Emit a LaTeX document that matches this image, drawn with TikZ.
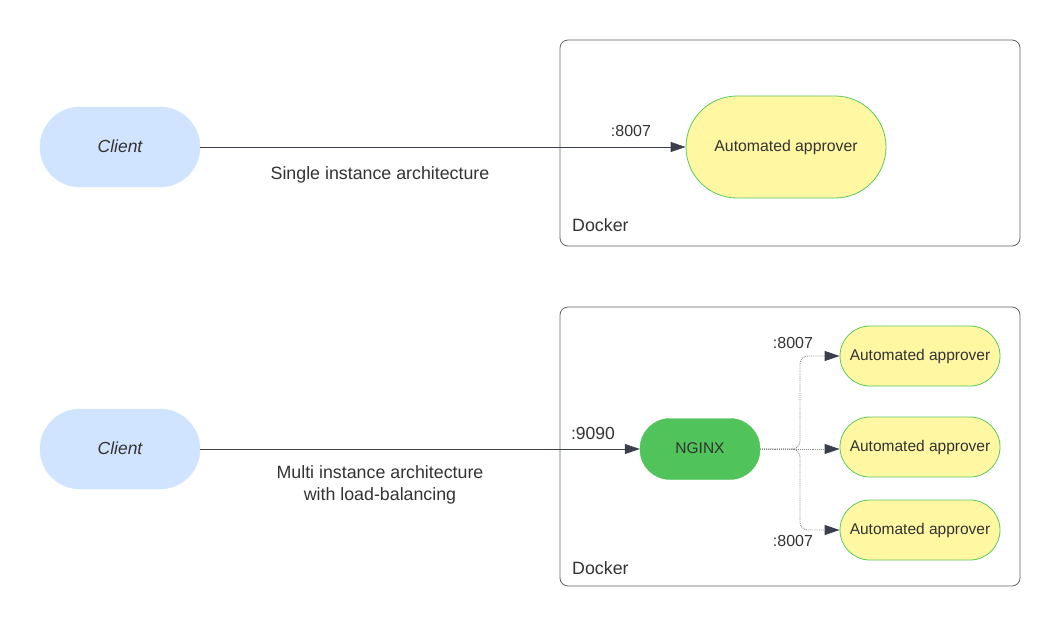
\documentclass[tikz,border=0pt]{standalone}
\usepackage{fontspec}
\setmainfont{Liberation Sans}
\usetikzlibrary{arrows.meta}
\definecolor{clientfill}{HTML}{D1E4FF}
\definecolor{appfill}{HTML}{FFF7A1}
\definecolor{appborder}{HTML}{5BC95B}
\definecolor{nginxfill}{HTML}{50C35A}
\definecolor{boxborder}{HTML}{5F6368}
\definecolor{txt}{HTML}{333333}
\definecolor{arr}{HTML}{3A3F4B}
\definecolor{dotc}{HTML}{8A8A8A}
\tikzset{
  client/.style={fill=clientfill, draw=clientfill, rounded corners=40pt, minimum width=160pt, minimum height=80pt, inner sep=0pt, font=\fontsize{17.5}{20}\selectfont\itshape, text=txt},
  bigapp/.style={fill=appfill, draw=appborder, line width=0.8pt, rounded corners=51pt, minimum width=200pt, minimum height=102pt, inner sep=0pt, font=\fontsize{15.8}{18}\selectfont, text=txt},
  smallapp/.style={fill=appfill, draw=appborder, line width=0.8pt, rounded corners=30pt, minimum width=160pt, minimum height=60pt, inner sep=0pt, font=\fontsize{15.5}{18}\selectfont, text=txt},
  nginx/.style={fill=nginxfill, draw=nginxfill, rounded corners=30pt, minimum width=120pt, minimum height=61pt, inner sep=0pt, font=\fontsize{15.5}{18}\selectfont, text=txt},
  dockerbox/.style={draw=boxborder, line width=0.8pt, rounded corners=8pt},
  lbl/.style={font=\fontsize{17.8}{22}\selectfont, text=txt, inner sep=0pt},
  port/.style={font=\fontsize{16}{19}\selectfont, text=txt, inner sep=0pt},
  conn/.style={draw=arr, line width=0.8pt, -{Triangle[length=15pt,width=10pt]}},
  dconn/.style={draw=dotc, line width=0.9pt, densely dotted, rounded corners=8pt, -{Triangle[length=15pt,width=10pt,fill=arr,color=arr]}},
}
\begin{document}
\begin{tikzpicture}[x=1pt,y=-1pt]
\useasboundingbox (0,0) rectangle (1060,641);
% Docker boxes
\draw[dockerbox] (560,40) rectangle (1020,246);
\draw[dockerbox] (560,307) rectangle (1020,586);
\node[lbl, anchor=west] (dock1) at (572,225) {Docker};
\node[lbl, anchor=west] (dock2) at (572,568) {Docker};
% top
\node[client] (c1) at (120,147) {\raisebox{2pt}{Client}};
\node[bigapp] (a1) at (786,147) {\raisebox{2pt}{Automated approver}};
\draw[conn] (c1.east) -- (a1.west);
\node[port] (p1) at (631,131) {:8007};
\node[lbl] (l1) at (380,175) {Single instance architecture};
% bottom
\node[client] (c2) at (120,449) {\raisebox{2pt}{Client}};
\node[nginx] (ng) at (700,449) {\raisebox{2pt}{NGINX}};
\draw[conn] (c2.east) -- (ng.west);
\node[port, font=\fontsize{17.5}{21}\selectfont] (p2) at (593,433) {:9090};
\node[lbl, align=center] (l2) at (380,485) {Multi instance architecture\\with load-balancing};
\node[smallapp] (b1) at (920,356) {Automated approver};
\node[smallapp] (b2) at (920,447) {Automated approver};
\node[smallapp] (b3) at (920,530) {Automated approver};
\coordinate (split) at (800,449);
\coordinate (b2in) at (b2.west |- ng.east);
\draw[dconn] (ng.east) -- (split) |- (b1.west);
\draw[dconn] (ng.east) -- (split) |- (b3.west);
\draw[dconn] (ng.east) -- (b2in);
\node[port] (p3) at (793,343) {:8007};
\node[port] (p4) at (793,541) {:8007};
\end{tikzpicture}
\end{document}
